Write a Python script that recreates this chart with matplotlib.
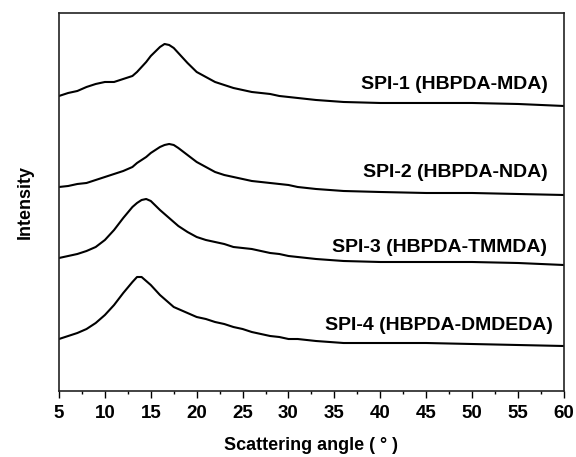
import matplotlib.pyplot as plt
from matplotlib.ticker import MultipleLocator

# Scattering angle (deg) shared by all traces.
angle = [5, 6, 7, 8, 9, 10, 11, 12, 13, 13.5, 14, 14.5, 15, 16, 16.5, 17, 17.5,
         18, 19, 20, 21, 22, 23, 24, 25, 26, 27, 28, 29, 30, 31, 33, 36, 40,
         45, 50, 55, 60]

# Stacked intensities (a.u., already offset for display).
spi1 = [295, 298, 300, 304, 307, 309, 309, 312, 315, 319, 324, 329, 335, 344,
        347, 346, 343, 338, 328, 319, 314, 309, 306, 303, 301, 299, 298, 297,
        295, 294, 293, 291, 289, 288, 288, 288, 287, 285]
spi2 = [204, 205, 207, 208, 211, 214, 217, 220, 224, 228, 231, 234, 238, 244,
        246, 247, 246, 243, 236, 229, 224, 219, 216, 214, 212, 210, 209, 208,
        207, 206, 204, 202, 200, 199, 198, 198, 197, 196]
spi3 = [133, 135, 137, 140, 144, 151, 161, 173, 184, 188, 191, 192, 190, 181,
        177, 173, 169, 165, 159, 154, 151, 149, 147, 144, 143, 142, 140, 138,
        137, 135, 134, 132, 130, 129, 129, 129, 128, 126]
spi4 = [52, 55, 58, 62, 68, 76, 86, 98, 109, 114, 114, 110, 106, 96,
        92, 88, 84, 82, 78, 74, 72, 69, 67, 64, 62, 59, 57, 55,
        54, 52, 52, 50, 48, 48, 48, 47, 46, 45]

labels = ["SPI-1 (HBPDA-MDA)", "SPI-2 (HBPDA-NDA)",
          "SPI-3 (HBPDA-TMMDA)", "SPI-4 (HBPDA-DMDEDA)"]
label_y = [306, 218, 143, 66]
label_x = [58.2, 58.2, 58.2, 58.8]

plt.rcParams["font.family"] = ["Liberation Sans", "DejaVu Sans"]
plt.rcParams["font.weight"] = "bold"

fig = plt.figure(figsize=(5.76, 4.57), dpi=100)
ax = fig.add_axes([0.1024, 0.1444, 0.8766, 0.8272])

for series in [spi1, spi2, spi3, spi4]:
    ax.plot(angle, series, color="black", linewidth=1.5)

for text, x, y in zip(labels, label_x, label_y):
    ax.text(x, y, text, ha="right", va="center", fontsize=14, fontweight="bold")

ax.set_xlim(5, 60)
ax.set_ylim(0, 378)
ax.xaxis.set_major_locator(MultipleLocator(5))
ax.xaxis.set_minor_locator(MultipleLocator(2.5))
ax.tick_params(axis="x", which="major", direction="out", length=5, width=1,
               labelsize=13.5, pad=5)
ax.tick_params(axis="x", which="minor", direction="out", length=2.5, width=1)
ax.set_yticks([])
for lab in ax.get_xticklabels():
    lab.set_fontweight("bold")
for spine in ax.spines.values():
    spine.set_linewidth(1.2)
    spine.set_color("#222222")

ax.set_xlabel("Scattering angle ( ° )", fontsize=13, fontweight="bold", labelpad=11)
ax.set_ylabel("Intensity", fontsize=13, fontweight="bold", labelpad=18)

plt.savefig("out.png", dpi=100)
